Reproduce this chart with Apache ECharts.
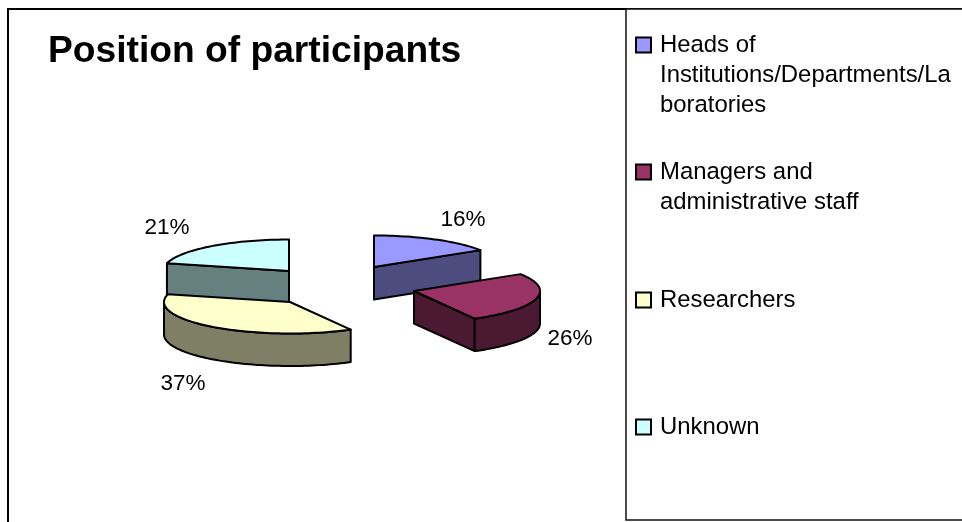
<!DOCTYPE html>
<html>
<head>
<meta charset="utf-8">
<style>html,body{margin:0;padding:0;background:#fff}#c{width:962px;height:522px}</style>
<script src="https://cdn.jsdelivr.net/npm/echarts@6/dist/echarts.min.js"></script>
</head>
<body>
<div id="c"></div>
<script>
const titleText = 'Position of participants';
const categories = ['Heads of Institutions/Departments/Laboratories', 'Managers and administrative staff', 'Researchers', 'Unknown'];
const legendLines = [['Heads of', 'Institutions/Departments/La', 'boratories'], ['Managers and', 'administrative staff'], ['Researchers'], ['Unknown']];
const values = [16, 26, 37, 21];
const topColors = ['#9999FF', '#993366', '#FFFFCC', '#CCFFFF'];
const wallColors = ['#4C4C7F', '#4C1933', '#7F7F66', '#667F7F'];

// layout of the exploded 3D pie
const center = [334, 286], rx = 126, ry = 31.5, depth = 32.5;
const explode = [[40, -19], [80, 5], [-44, 16], [-45, -15]];
const labelOffset = [[89, -47], [156, 48], [-107, 82], [-122, -43]];
const drawOrder = [1, 3, 4, 2];
const legendCenterY = [45, 172, 300, 427];
const lineH = 30, fontFamily = '"Liberation Sans", Arial, sans-serif';

const total = values.reduce((a, b) => a + b, 0);
function renderSlice(i, api) {
  const v = api.value(0);
  const before = values.slice(0, i).reduce((a, b) => a + b, 0);
  const a0 = before / total * 2 * Math.PI, a1 = (before + v) / total * 2 * Math.PI;
  const ax = center[0] + explode[i][0], ay = center[1] + explode[i][1];
  const pt = (a, d) => [ax + rx * Math.sin(a), ay - ry * Math.cos(a) + (d || 0)];
  const arc = (s, e, d) => {
    const n = Math.max(2, Math.ceil((e - s) / 0.03)), out = [];
    for (let k = 0; k <= n; k++) out.push(pt(s + (e - s) * k / n, d));
    return out;
  };
  const line = { stroke: '#000', lineWidth: 2, lineJoin: 'round' };
  const poly = (points, fill) => ({ type: 'polygon', shape: { points }, style: Object.assign({ fill }, line) });
  const children = [];
  const wall = wallColors[i];
  const cut = a => poly([[ax, ay], pt(a), pt(a, depth), [ax, ay + depth]], wall);
  if (-Math.sin(a0) > 1e-6) children.push(cut(a0));
  if (Math.sin(a1) > 1e-6) children.push(cut(a1));
  const ws = Math.max(a0, Math.PI / 2), we = Math.min(a1, 1.5 * Math.PI);
  if (we > ws) children.push(poly(arc(ws, we, 0).concat(arc(ws, we, depth).reverse()), wall));
  children.push(poly([[ax, ay]].concat(arc(a0, a1, 0)), topColors[i]));
  children.push({
    type: 'text', x: ax + labelOffset[i][0], y: ay + labelOffset[i][1],
    style: { text: Math.round(v / total * 100) + '%', fill: '#000', font: '22.5px ' + fontFamily, align: 'center', verticalAlign: 'middle' }
  });
  return { type: 'group', children };
}

const option = {
  animation: false,
  backgroundColor: '#fff',
  title: {
    text: titleText, left: 48, top: 33, padding: 0,
    textStyle: { fontFamily, fontSize: 37.2, fontWeight: 'bold', color: '#000' }
  },
  legend: categories.map((name, i) => {
    const n = legendLines[i].length;
    return {
      data: [name], orient: 'vertical', left: 635, padding: 0,
      top: legendCenterY[i] - (2 * n - 1) * lineH / 2,
      selectedMode: false, icon: 'rect', itemWidth: 15, itemHeight: 15, itemGap: 0,
      itemStyle: { color: topColors[i], borderColor: '#000', borderWidth: 2 },
      // blank lines keep the swatch level with the first text line
      formatter: () => '\n'.repeat(n - 1) + legendLines[i].join('\n'),
      textStyle: { fontFamily, fontSize: 23.9, lineHeight: lineH, color: '#000', padding: [0, 0, 0, 4] }
    };
  }),
  graphic: [
    { type: 'rect', silent: true, z: 0, shape: { x: 8, y: 9, width: 1000, height: 600 }, style: { fill: '#fff', stroke: '#000', lineWidth: 2 } },
    { type: 'rect', silent: true, z: 1, shape: { x: 626, y: 9, width: 400, height: 511 }, style: { fill: '#fff', stroke: '#111', lineWidth: 1.5 } }
  ],
  series: categories.map((name, i) => ({
    type: 'custom', name, coordinateSystem: 'none', z: drawOrder[i] + 2,
    itemStyle: { color: topColors[i] },
    data: [[values[i]]],
    renderItem: (params, api) => renderSlice(i, api)
  }))
};
echarts.init(document.getElementById('c'), null, { renderer: 'canvas' }).setOption(option);
</script>
</body>
</html>
